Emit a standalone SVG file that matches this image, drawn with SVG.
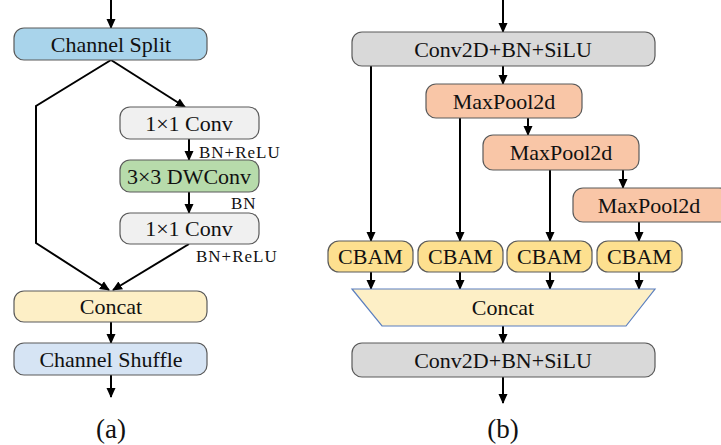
<svg xmlns="http://www.w3.org/2000/svg" width="721" height="445" viewBox="0 0 721 445">
<defs>
<marker id="ah" markerWidth="10" markerHeight="10" refX="9" refY="5" orient="auto" markerUnits="userSpaceOnUse">
<path d="M0,0.5 L10,5 L0,9.5 Z" fill="#000"/>
</marker>
<style>
.box{stroke:#5a5a5a;stroke-width:1.2}
text{font-family:'Liberation Serif','Times New Roman',serif}
.t{font-size:22px;fill:#111;text-anchor:middle;dominant-baseline:central}
.s{font-size:17px;fill:#111;letter-spacing:1px}
.cap{font-size:27px;fill:#111;text-anchor:middle}
.ar{stroke:#000;stroke-width:2;fill:none;marker-end:url(#ah)}
</style>
</defs>
<rect width="721" height="445" fill="#fff"/>

<g id="connectors">
<line class="ar" x1="111" y1="0" x2="111" y2="28"/>
<polyline class="ar" points="111,60 185,107"/>
<polyline class="ar" points="111,60 36,106 36,243 109,290"/>
<line class="ar" x1="189" y1="139" x2="189" y2="160"/>
<line class="ar" x1="189" y1="192" x2="189" y2="213"/>
<polyline class="ar" points="189,244 113,290"/>
<line class="ar" x1="111" y1="322" x2="111" y2="343"/>
<line class="ar" x1="111" y1="375" x2="111" y2="397"/>
<line class="ar" x1="503" y1="0" x2="503" y2="32"/>
<line class="ar" x1="503" y1="66" x2="503" y2="84"/>
<line class="ar" x1="528" y1="118" x2="528" y2="135"/>
<line class="ar" x1="623" y1="170" x2="623" y2="188"/>
<line class="ar" x1="371" y1="66" x2="371" y2="241"/>
<line class="ar" x1="460" y1="118" x2="460" y2="241"/>
<line class="ar" x1="550" y1="170" x2="550" y2="241"/>
<line class="ar" x1="639" y1="222" x2="639" y2="241"/>
<line class="ar" x1="371" y1="272" x2="371" y2="289"/>
<line class="ar" x1="460" y1="272" x2="460" y2="289"/>
<line class="ar" x1="550" y1="272" x2="550" y2="289"/>
<line class="ar" x1="639" y1="272" x2="639" y2="289"/>
<line class="ar" x1="503" y1="326" x2="503" y2="343"/>
<line class="ar" x1="503" y1="377" x2="503" y2="403"/>
</g>

<g id="channel-split"><rect class="box" x="14" y="28" width="193" height="32" rx="10" fill="#a9d4eb"/><text class="t" x="111" y="44">Channel Split</text></g>
<g id="conv1"><rect class="box" x="120" y="107" width="139" height="32" rx="10" fill="#f0f0f0"/><text class="t" x="189" y="123">1×1 Conv</text></g>
<g id="label-bnrelu1"><text class="s" x="199" y="158">BN+ReLU</text></g>
<g id="dwconv"><rect class="box" x="120" y="160" width="139" height="32" rx="10" fill="#b7dbab"/><text class="t" x="189" y="176">3×3 DWConv</text></g>
<g id="label-bn"><text class="s" x="231" y="209">BN</text></g>
<g id="conv2"><rect class="box" x="120" y="213" width="139" height="31" rx="10" fill="#f0f0f0"/><text class="t" x="189" y="228.5">1×1 Conv</text></g>
<g id="label-bnrelu2"><text class="s" x="196" y="262">BN+ReLU</text></g>
<g id="concat-a"><rect class="box" x="14" y="291" width="193" height="31" rx="10" fill="#fdefc6"/><text class="t" x="111" y="306.5">Concat</text></g>
<g id="channel-shuffle"><rect class="box" x="14" y="343" width="193" height="32" rx="10" fill="#d6e4f4"/><text class="t" x="111" y="359">Channel Shuffle</text></g>
<g id="caption-a"><text class="cap" x="111" y="438">(a)</text></g>

<g id="conv-top"><rect class="box" x="352" y="32" width="303" height="34" rx="10" fill="#d9d9d9"/><text class="t" x="503" y="49">Conv2D+BN+SiLU</text></g>
<g id="maxpool1"><rect class="box" x="426" y="84" width="156" height="34" rx="10" fill="#f9c6a7"/><text class="t" x="504" y="101">MaxPool2d</text></g>
<g id="maxpool2"><rect class="box" x="483" y="135" width="156" height="35" rx="10" fill="#f9c6a7"/><text class="t" x="561" y="152.5">MaxPool2d</text></g>
<g id="maxpool3"><rect class="box" x="573" y="188" width="156" height="34" rx="10" fill="#f9c6a7"/><text class="t" x="649" y="205">MaxPool2d</text></g>
<g id="cbam1"><rect class="box" x="328" y="241" width="85" height="31" rx="11" fill="#fde08f"/><text class="t" x="370.5" y="256.5">CBAM</text></g>
<g id="cbam2"><rect class="box" x="418" y="241" width="85" height="31" rx="11" fill="#fde08f"/><text class="t" x="460.5" y="256.5">CBAM</text></g>
<g id="cbam3"><rect class="box" x="507" y="241" width="85" height="31" rx="11" fill="#fde08f"/><text class="t" x="549.5" y="256.5">CBAM</text></g>
<g id="cbam4"><rect class="box" x="597" y="241" width="85" height="31" rx="11" fill="#fde08f"/><text class="t" x="639.5" y="256.5">CBAM</text></g>
<g id="concat-b"><polygon points="352,289 655,289 626,326 382,326" fill="#fdefc6" stroke="#5b7fbf" stroke-width="1.2"/><text class="t" x="503" y="307.5">Concat</text></g>
<g id="conv-bottom"><rect class="box" x="352" y="343" width="303" height="34" rx="10" fill="#d9d9d9"/><text class="t" x="503" y="360">Conv2D+BN+SiLU</text></g>
<g id="caption-b"><text class="cap" x="503" y="438">(b)</text></g>
</svg>
